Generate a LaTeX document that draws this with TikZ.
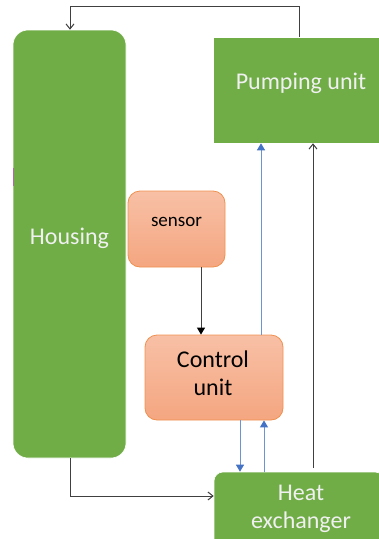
\documentclass[tikz,border=0pt]{standalone}
\usepackage{fontspec}
\setmainfont{Carlito}
\usetikzlibrary{arrows.meta}
\definecolor{gboxc}{HTML}{70AD47}
\definecolor{otop}{HTML}{F8C0A6}
\definecolor{obot}{HTML}{F4A680}
\definecolor{oline}{HTML}{F0904E}
\definecolor{bluel}{HTML}{4472C4}
\definecolor{bluelite}{HTML}{6F93D2}
\definecolor{linec}{HTML}{404040}
\tikzset{
  gbox/.style={fill=gboxc, draw=white, line width=0.6pt, inner sep=0pt},
  gtext/.style={text=white!94!black, font=\fontsize{24}{28}\selectfont, align=center, inner sep=0pt},
  obox/.style={top color=otop, bottom color=obot, draw=oline, line width=0.8pt, text=black, align=center, inner sep=0pt, rounded corners=12pt},
  openarr/.style={draw=linec, line width=1pt, -{Straight Barb[length=5pt,width=8pt]}},
  blkarr/.style={draw=linec, line width=1pt, -{Triangle[length=7pt,width=8pt,color=black,fill=black]}},
  bluarr/.style={draw=bluelite, line width=1pt, -{Triangle[length=7pt,width=8pt,color=bluel,fill=bluel]}},
}
\begin{document}
\begin{tikzpicture}[x=1pt,y=-1pt]
\useasboundingbox (0,0) rectangle (379,539);
\clip (0,0) rectangle (379,539);
\node[gbox, rounded corners=15pt, minimum width=113pt, minimum height=428pt] (housing) at (69.5,244) {};
\node[gtext] (housingt) at (69.5,238) {Housing};
\node[gbox, minimum width=167pt, minimum height=106pt] (pump) at (296.5,90) {};
\node[gtext] (pumpt) at (301,83) {Pumping unit};
\node[obox, minimum width=97pt, minimum height=76pt] (sensor) at (176.5,229) {};
\node[font=\fontsize{19}{22}\selectfont, inner sep=0pt] (sensort) at (176.5,222) {sensor};
\node[obox, minimum width=138pt, minimum height=85pt] (ctrl) at (214,377.5) {};
\node[font=\fontsize{24}{28}\selectfont, align=center, inner sep=0pt] (ctrlt) at (213,373) {Control\\unit};
\node[gbox, rounded corners=9pt, minimum width=170pt, minimum height=80pt] (heat) at (299,512) {};
\node[gtext] (heatt) at (301,508.5) {Heat\\exchanger};
% connectors
\coordinate (p1) at (299,6);
\coordinate (p2) at (70,6);
\draw[openarr] (pump.north -| p1) -- (p1) -- (p2) -- (housing.north -| p2);
\coordinate (q1) at (70,496);
\draw[openarr] (housing.south -| q1) -- (q1) -- (heat.west |- q1);
\coordinate (r1) at (313,468);
\draw[openarr] (r1) -- (pump.south -| r1);
\coordinate (s1) at (261,0);
\draw[bluarr] (ctrl.north -| s1) -- (pump.south -| s1);
\coordinate (t1) at (201,0);
\draw[blkarr] (sensor.south -| t1) -- (ctrl.north -| t1);
\coordinate (u1) at (240,0);
\draw[bluarr] (ctrl.south -| u1) -- (heat.north -| u1);
\coordinate (v1) at (264,0);
\draw[bluarr] (heat.north -| v1) -- (ctrl.south -| v1);
\draw[draw=violet!60, line width=0.7pt] (13.5,168) -- (13.5,186);
\end{tikzpicture}
\end{document}
